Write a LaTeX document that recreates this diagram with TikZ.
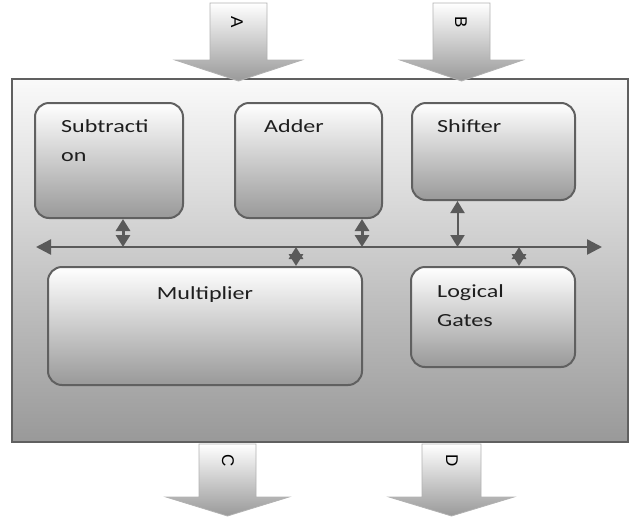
\documentclass[tikz,border=0pt]{standalone}
\usepackage{fontspec}
\newfontfamily\boxfont[FakeStretch=1.3]{Carlito}
\newfontfamily\tagfont{Liberation Sans}
\usetikzlibrary{arrows.meta, positioning}
\definecolor{edgegray}{HTML}{606060}
\definecolor{busgray}{HTML}{5A5A5A}
\definecolor{textdark}{HTML}{1E1E1E}

\begin{document}
\begin{tikzpicture}[x=1pt, y=-1pt,
    unit/.style={draw=edgegray, line width=2pt, rounded corners=14pt, top color=white, middle color=black!12, bottom color=black!40, inner sep=0pt},
    outer/.style={draw=edgegray, line width=2.6pt, top color=black!2, middle color=black!15, bottom color=black!40, inner sep=0pt},
    lbl/.style={font=\boxfont\fontsize{18.5}{29}\selectfont, text=textdark, inner sep=0pt, align=left},
    bus/.style={{Triangle[length=15pt, width=15pt]}-{Triangle[length=15pt, width=15pt]}, line width=2.5pt, draw=busgray},
    link/.style={{Triangle[length=12pt, width=14pt]}-{Triangle[length=12pt, width=14pt]}, line width=3pt, draw=busgray},
    thinlink/.style={{Triangle[length=12pt, width=14pt]}-{Triangle[length=12pt, width=14pt]}, line width=2pt, draw=busgray},
    port/.style={draw=black!30, line width=0.8pt, top color=white, bottom color=black!40},
    tag/.style={font=\tagfont\fontsize{17}{17}\selectfont, rotate=-90, text=black, inner sep=0pt}
  ]
  \useasboundingbox (0,0) rectangle (631,517);

  % ALU outline
  \node[outer, minimum width=616pt, minimum height=363pt] (alu) at (320,260.5) {};

  % input and output block arrows
  \path[port] (210,3) -- (267,3) -- (267,60) -- (302,60) -- (238.5,81) -- (175,60) -- (210,60) -- cycle;
  \path[port] (433,3) -- (490,3) -- (490,60) -- (523,60) -- (461.5,81) -- (400,60) -- (433,60) -- cycle;
  \path[port] (199,444) -- (256,444) -- (256,497) -- (289,497) -- (227.5,516) -- (166,497) -- (199,497) -- cycle;
  \path[port] (422,444) -- (481,444) -- (481,497) -- (514,497) -- (451.5,516) -- (389,497) -- (422,497) -- cycle;
  \node[tag] (tagA) at (237,22) {A};
  \node[tag] (tagB) at (461,22) {B};
  \node[tag] (tagC) at (228,461) {C};
  \node[tag] (tagD) at (452,461) {D};

  % functional units
  \node[unit, minimum width=148pt, minimum height=115pt] (sub) at (109,160.5) {};
  \node[unit, minimum width=147pt, minimum height=115pt] (add) at (308.5,160.5) {};
  \node[unit, minimum width=163pt, minimum height=97pt] (shift) at (493.5,151.5) {};
  \node[unit, minimum width=314pt, minimum height=118pt] (mul) at (205,326) {};
  \node[unit, minimum width=164pt, minimum height=100pt] (logic) at (493,317) {};

  % labels (base is the last line)
  \node[lbl, anchor=base west] (subtxt) at ([xshift=27pt, yshift=-59pt]sub.north west) {Subtracti\\on};
  \node[lbl, anchor=base west] (addtxt) at ([xshift=30pt, yshift=-30pt]add.north west) {Adder};
  \node[lbl, anchor=base west] (shifttxt) at ([xshift=26pt, yshift=-30pt]shift.north west) {Shifter};
  \node[lbl, anchor=base] (multxt) at ([yshift=-33pt]mul.north) {Multiplier};
  \node[lbl, anchor=base west] (logictxt) at ([xshift=27pt, yshift=-60pt]logic.north west) {Logical\\Gates};

  % internal bus
  \coordinate (busL) at (36,247);
  \coordinate (busR) at (602,247);
  \draw[bus] (busL) -- (busR);

  % unit to bus links
  \draw[link] ([xshift=14pt]sub.south) -- ([xshift=14pt]sub.south |- busL);
  \draw[link] ([xshift=53.5pt]add.south) -- ([xshift=53.5pt]add.south |- busL);
  \draw[thinlink] ([xshift=-36pt]shift.south) -- ([xshift=-36pt]shift.south |- busL);
  \draw[link] ([xshift=91pt]mul.north |- busL) -- ([xshift=91pt]mul.north);
  \draw[link] ([xshift=26pt]logic.north |- busL) -- ([xshift=26pt]logic.north);
\end{tikzpicture}
\end{document}
